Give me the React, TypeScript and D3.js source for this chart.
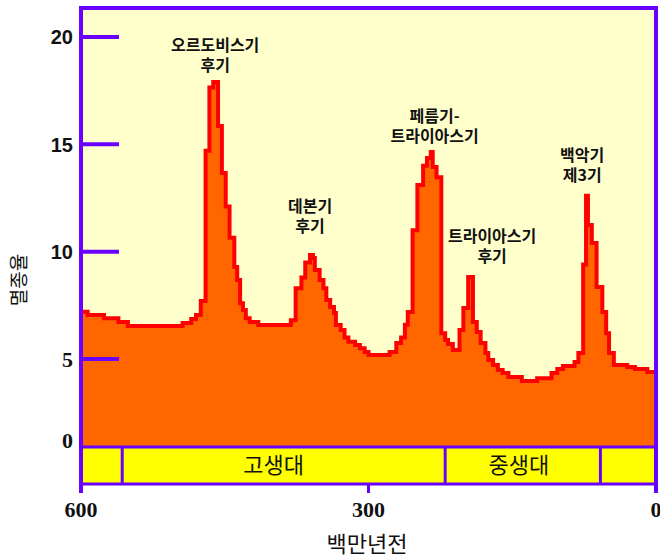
import React, { useRef, useEffect } from "react";
import * as d3 from "d3";

// 멸종율 step values, each starting at the age (백만년전) given in `ages`
const ages = [
  600, 593, 576, 561, 551, 494, 485, 480, 475, 470,
  466, 462, 457, 453, 449, 445, 440, 437, 434, 431,
  428, 424, 415, 381, 376, 370, 366, 361, 358, 356,
  351, 347, 344, 340, 336, 334, 329, 325, 321, 314,
  309, 304, 300, 278, 271, 266, 262, 259, 254, 249,
  243, 239, 235, 233, 229, 224, 220, 217, 212, 205,
  201, 196, 191, 187, 183, 178, 175, 170, 165, 160,
  154, 140, 124, 109, 103, 97, 85, 81, 76, 73,
  71, 67, 62, 56, 52, 49, 44, 30, 22, 9,
];
const rates = [
  7.2, 7.05, 6.9, 6.72, 6.54, 6.68, 6.86, 7.05, 7.7, 14.7,
  17.65, 17.9, 15.85, 13.66, 12.1, 10.65, 9.28, 8.68, 7.6, 7.28,
  6.9, 6.72, 6.58, 6.8, 8.3, 8.8, 9.5, 9.85, 9.7, 9.15,
  8.68, 8.3, 7.75, 7.42, 7.14, 6.58, 6.35, 6.0, 5.8, 5.65,
  5.5, 5.33, 5.19, 5.33, 5.75, 6.0, 6.6, 7.19, 11.0, 13.1,
  14.0, 14.36, 14.64, 13.94, 13.47, 6.2, 5.88, 5.7, 5.42, 6.35,
  7.38, 8.82, 6.72, 6.26, 5.75, 5.28, 4.95, 4.72, 4.49, 4.35,
  4.16, 3.98, 4.1, 4.35, 4.53, 4.67, 4.86, 5.28, 9.4, 12.6,
  11.24, 10.4, 8.35, 7.19, 6.2, 5.28, 4.72, 4.63, 4.53, 4.4,
];

const yTicks = [0, 5, 10, 15, 20];
const xTicks = [600, 300, 0];

// era band
const eraBounds = [557, 220, 58];
const eraNames = ["고생대", "중생대"];
const eraLabelAges = [399, 143];

// extinction events (label anchor in data units)
const eventLines = [
  ["오르도비스기", "후기"],
  ["데본기", "후기"],
  ["페름기-", "트라이아스기"],
  ["트라이아스기", "후기"],
  ["백악기", "제3기"],
];
const eventAges = [460, 361, 231, 171, 77];
const eventRates = [19.6, 12.1, 16.3, 10.7, 14.5];

const KR = "'Noto Sans CJK KR', 'Noto Sans', sans-serif";

const App: React.FC = () => {
  const ref = useRef<SVGSVGElement>(null);

  useEffect(() => {
    const svg = d3.select(ref.current);
    svg.selectAll("*").remove();

    const left = 81;
    const right = 656;
    const top = 8;
    const bottom = 447;
    const bandBottom = 484;
    const purple = "#6a00ff";

    const x = d3.scaleLinear().domain([600, 0]).range([left, right]);
    const y = d3.scaleLinear().domain([5, 20]).range([359, 37]);

    const data = ages.map((a, i) => ({ age: a, rate: rates[i] }));
    data.push({ age: 0, rate: rates[rates.length - 1] });

    svg
      .append("defs")
      .append("clipPath")
      .attr("id", "plot")
      .append("rect")
      .attr("x", left)
      .attr("y", top)
      .attr("width", right - left)
      .attr("height", bottom - top);

    // background
    svg
      .append("rect")
      .attr("x", left)
      .attr("y", top)
      .attr("width", right - left)
      .attr("height", bottom - top)
      .attr("fill", "#ffffcc");

    const area = d3
      .area<{ age: number; rate: number }>()
      .curve(d3.curveStepAfter)
      .x((d) => x(d.age))
      .y0(bottom)
      .y1((d) => y(d.rate));

    const line = d3
      .line<{ age: number; rate: number }>()
      .curve(d3.curveStepAfter)
      .x((d) => x(d.age))
      .y((d) => y(d.rate));

    svg
      .append("path")
      .datum(data)
      .attr("d", area)
      .attr("fill", "#ff6600")
      .attr("clip-path", "url(#plot)");

    svg
      .append("path")
      .datum(data)
      .attr("d", line)
      .attr("fill", "none")
      .attr("stroke", "#ff0000")
      .attr("stroke-width", 4)
      .attr("stroke-linejoin", "miter")
      .attr("clip-path", "url(#plot)");

    // y ticks
    svg
      .selectAll(".ytick")
      .data(yTicks.filter((v) => v > 0))
      .join("line")
      .attr("x1", left)
      .attr("x2", left + 38)
      .attr("y1", (d) => y(d))
      .attr("y2", (d) => y(d))
      .attr("stroke", purple)
      .attr("stroke-width", 4);

    svg
      .selectAll(".ylab")
      .data(yTicks)
      .join("text")
      .attr("x", 73)
      .attr("y", (d) => (d === 0 ? bottom - 7 : y(d)))
      .attr("dy", "0.36em")
      .attr("text-anchor", "end")
      .attr("font-family", (d) =>
        d >= 10 ? "'Liberation Sans', Arial, sans-serif" : "'Liberation Serif', serif"
      )
      .attr("font-weight", "bold")
      .attr("font-size", (d) => (d >= 10 ? 20 : 22))
      .attr("fill", "#111")
      .text((d) => d);

    // era band
    svg
      .append("rect")
      .attr("x", left)
      .attr("y", bottom)
      .attr("width", right - left)
      .attr("height", bandBottom - bottom)
      .attr("fill", "#ffff00");

    svg
      .selectAll(".era")
      .data(eraBounds)
      .join("line")
      .attr("x1", (d) => x(d))
      .attr("x2", (d) => x(d))
      .attr("y1", bottom)
      .attr("y2", bandBottom)
      .attr("stroke", purple)
      .attr("stroke-width", 3);

    svg
      .selectAll(".eralab")
      .data(eraNames)
      .join("text")
      .attr("x", (d, i) => x(eraLabelAges[i]))
      .attr("y", (bottom + bandBottom) / 2)
      .attr("dy", "0.36em")
      .attr("text-anchor", "middle")
      .attr("font-family", KR)
      .attr("font-size", 22)
      .attr("fill", "#111")
      .text((d) => d);

    [bottom, bandBottom].forEach((yy) =>
      svg
        .append("line")
        .attr("x1", left)
        .attr("x2", right)
        .attr("y1", yy)
        .attr("y2", yy)
        .attr("stroke", purple)
        .attr("stroke-width", 3)
    );

    // frame
    svg
      .append("path")
      .attr("d", `M${left},493V${top}H${right}V493`)
      .attr("fill", "none")
      .attr("stroke", purple)
      .attr("stroke-width", 4);

    // x ticks
    svg
      .selectAll(".xtick")
      .data(xTicks)
      .join("line")
      .attr("x1", (d) => x(d))
      .attr("x2", (d) => x(d))
      .attr("y1", bandBottom)
      .attr("y2", 493)
      .attr("stroke", purple)
      .attr("stroke-width", 3);

    svg
      .selectAll(".xlab")
      .data(xTicks)
      .join("text")
      .attr("x", (d) => x(d))
      .attr("y", 517)
      .attr("text-anchor", "middle")
      .attr("font-family", "'Liberation Serif', serif")
      .attr("font-weight", "bold")
      .attr("font-size", 22)
      .attr("fill", "#111")
      .text((d) => d);

    // axis titles
    svg
      .append("text")
      .attr("x", 367)
      .attr("y", 552)
      .attr("text-anchor", "middle")
      .attr("font-family", KR)
      .attr("font-size", 22)
      .attr("fill", "#111")
      .text("백만년전");

    svg
      .append("text")
      .attr("transform", "translate(19,280) rotate(-90)")
      .attr("dy", "0.36em")
      .attr("text-anchor", "middle")
      .attr("font-family", KR)
      .attr("font-size", 19)
      .attr("fill", "#111")
      .text("멸종율");

    // event labels
    eventLines.forEach((lines, i) => {
      const t = svg
        .append("text")
        .attr("x", x(eventAges[i]))
        .attr("y", y(eventRates[i]))
        .attr("text-anchor", "middle")
        .attr("font-family", KR)
        .attr("font-weight", "bold")
        .attr("font-size", 16)
        .attr("fill", "#111");
      lines.forEach((s, j) =>
        t
          .append("tspan")
          .attr("x", x(eventAges[i]))
          .attr("dy", j === 0 ? "0.36em" : 20)
          .text(s)
      );
    });
  }, []);

  return (
    <svg
      ref={ref}
      width={660}
      height={559}
      style={{ position: "absolute", left: 0, top: 0, background: "#fff" }}
    />
  );
};

export default App;
